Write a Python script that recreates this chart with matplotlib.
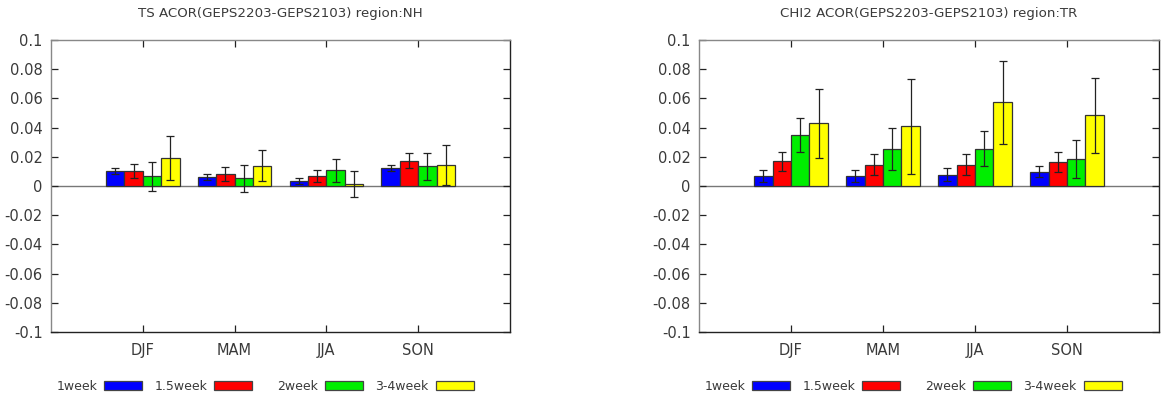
import numpy as np
import matplotlib
matplotlib.use("Agg")
import matplotlib.pyplot as plt
from matplotlib.patches import Rectangle

seasons = ["DJF", "MAM", "JJA", "SON"]
leads = ["1week", "1.5week", "2week", "3-4week"]
colors = ["#0000ff", "#ff0000", "#00ee00", "#ffff00"]

# TS region:NH  (rows = lead, cols = season)
ts_nh = [
    [0.0103, 0.0060, 0.0037, 0.0125],
    [0.0103, 0.0080, 0.0066, 0.0174],
    [0.0066, 0.0053, 0.0107, 0.0135],
    [0.0190, 0.0140, 0.0016, 0.0144],
]
ts_nh_err = [
    [0.0020, 0.0020, 0.0020, 0.0022],
    [0.0046, 0.0048, 0.0041, 0.0050],
    [0.0098, 0.0092, 0.0078, 0.0093],
    [0.0150, 0.0104, 0.0090, 0.0135],
]

# CHI2 region:TR
chi2_tr = [
    [0.0070, 0.0070, 0.0077, 0.0099],
    [0.0170, 0.0147, 0.0147, 0.0163],
    [0.0348, 0.0255, 0.0255, 0.0182],
    [0.0430, 0.0410, 0.0572, 0.0483],
]
chi2_tr_err = [
    [0.0040, 0.0040, 0.0046, 0.0035],
    [0.0066, 0.0075, 0.0070, 0.0070],
    [0.0117, 0.0145, 0.0120, 0.0130],
    [0.0235, 0.0325, 0.0285, 0.0260],
]

titles = ["TS ACOR(GEPS2203-GEPS2103) region:NH",
          "CHI2 ACOR(GEPS2203-GEPS2103) region:TR"]

W, H = 1161, 396
fig = plt.figure(figsize=(W / 100, H / 100), dpi=100)
txt = "#3a3a3a"


def draw(left_px, right_px, vals, errs, title):
    ax = fig.add_axes([left_px / W, 1 - 332 / H, (right_px - left_px) / W, (332 - 40) / H])
    x = np.arange(1, len(seasons) + 1)
    width = 0.2
    for i in range(len(leads)):
        ax.bar(x + (i - 1.5) * width, vals[i], width, color=colors[i],
               edgecolor="#333333", linewidth=0.9, zorder=2)
        ax.errorbar(x + (i - 1.5) * width, vals[i], yerr=errs[i], fmt="none",
                    ecolor="#222222", elinewidth=0.9, capsize=2.6, capthick=0.9, zorder=3)
    ax.axhline(0, color="#777777", linewidth=1.0, zorder=1)
    ax.set_xlim(0, 5)
    ax.set_ylim(-0.1, 0.1)
    ax.set_xticks(x)
    ax.set_xticklabels(seasons)
    yt = np.arange(-0.1, 0.1001, 0.02)
    ax.set_yticks(yt)
    ax.set_yticklabels(["0" if abs(v) < 1e-9 else f"{v:g}" for v in yt])
    ax.tick_params(axis="both", direction="in", length=5, width=0.9, color="#222222",
                   labelsize=10.5, labelcolor=txt, top=True, right=True, pad=6)
    ax.tick_params(axis="x", pad=8)
    for s in ["left", "top"]:
        ax.spines[s].set_color("#888888")
    for s in ["right", "bottom"]:
        ax.spines[s].set_color("#222222")
    for s in ax.spines.values():
        s.set_linewidth(1.0)
    fig.text((left_px + right_px) / 2 / W, 1 - 13 / H, title, ha="center", va="center",
             fontsize=9.6, color=txt)

    # legend below the axes: label then swatch
    start = left_px + 6
    text_off = [0, 98, 220, 318]
    sw_off = [47, 59, 48, 61]
    for i, lab in enumerate(leads):
        tx = start + text_off[i]
        fig.text(tx / W, 1 - 386 / H, lab, ha="left", va="center", fontsize=9, color=txt)
        sx = tx + sw_off[i]
        fig.add_artist(Rectangle((sx / W, 1 - 390 / H), 38 / W, 9 / H,
                                 transform=fig.transFigure, facecolor=colors[i],
                                 edgecolor="#444444", linewidth=0.9))


draw(51, 510, ts_nh, ts_nh_err, titles[0])
draw(699, 1159, chi2_tr, chi2_tr_err, titles[1])

fig.savefig("out.png", dpi=100, facecolor="white")
